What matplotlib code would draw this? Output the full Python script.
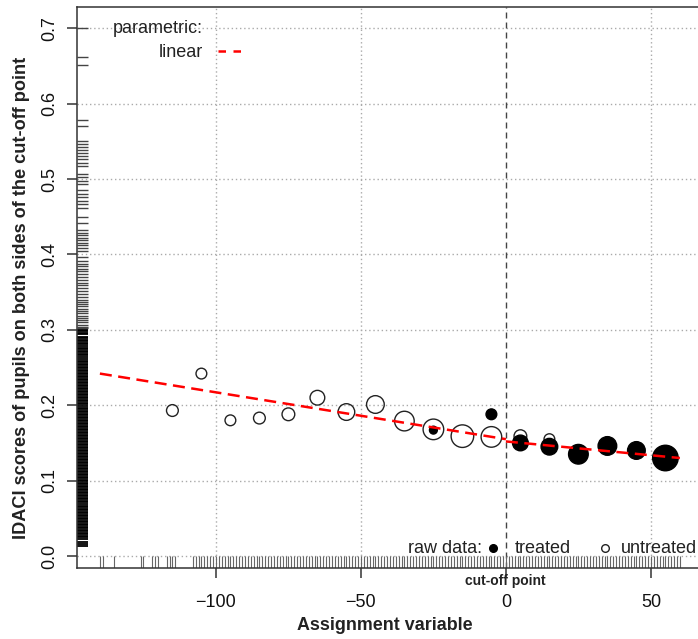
import matplotlib
matplotlib.use("Agg")
import matplotlib.pyplot as plt
import matplotlib.transforms as mtransforms

plt.rcParams["font.family"] = ["Liberation Sans", "DejaVu Sans"]

# -----------------------------
# Data
# -----------------------------
# binned means: untreated (open circles)
untreated_x = [-115, -105, -95, -85, -75, -65, -55, -45, -35, -25, -15, -5, 5, 15]
untreated_y = [0.193, 0.242, 0.180, 0.183, 0.188, 0.210, 0.191, 0.201, 0.179, 0.168, 0.159, 0.158, 0.159, 0.155]
untreated_n = [36, 30, 30, 36, 42, 56, 72, 81, 100, 110, 132, 110, 42, 30]

# binned means: treated (filled circles)
treated_x = [-25, -5, 5, 15, 25, 35, 45, 55]
treated_y = [0.167, 0.188, 0.150, 0.145, 0.135, 0.146, 0.140, 0.130]
treated_n = [16, 30, 64, 72, 100, 90, 81, 169]

# parametric (linear) fit on each side of the cut-off
fit_left_x = [-140, 0]
fit_left_y = [0.242, 0.155]
fit_right_x = [0, 60]
fit_right_y = [0.152, 0.130]

cutoff = 0

# rug of the assignment variable (bottom)
rug_x = [-140, -139, -135, -126, -125, -122, -121, -120, -117, -116, -115, -114,
         -108, -107, -106, -105, -104, -103, -102, -101, -100, -99, -98, -97, -96,
         -95, -94, -93, -92, -91, -90, -89, -88, -87, -86, -85, -84, -83, -82, -81,
         -80, -79, -78, -77, -76, -75, -74, -73, -72, -71, -70, -69, -68, -67, -66,
         -65, -64, -63, -62, -61, -60, -59, -58, -57, -56, -55, -54, -53, -52, -51,
         -50, -49, -48, -47, -46, -45, -44, -43, -42, -41, -40, -39, -38, -37, -36,
         -35, -34, -33, -32, -31, -30, -29, -28, -27, -26, -25, -24, -23, -22, -21,
         -20, -19, -18, -17, -16, -15, -14, -13, -12, -11, -10, -9, -8, -7, -6,
         -5, -4, -3, -2, -1, 0, 1, 2, 3, 4, 5, 6, 7, 8, 9, 10, 11, 12, 13, 14,
         15, 16, 17, 18, 19, 20, 21, 22, 23, 24, 25, 26, 27, 28, 29, 30, 31, 32, 33,
         34, 35, 36, 37, 38, 39, 40, 41, 42, 43, 44, 45, 46, 47, 48, 49, 50, 51, 52,
         53, 54, 55, 56, 57, 58, 59, 60]

# rug of the outcome (left), thousandths
rug_y_sparse_milli = [700, 662, 652, 579, 571, 550, 546, 542, 538, 534, 530, 526, 521, 517,
                      507, 503, 498, 494, 485, 480, 476, 471, 467, 462, 450, 442, 432, 429,
                      426, 422, 419, 415, 412, 408, 405, 396, 392, 388, 385, 381, 378, 374,
                      370, 366, 362, 359, 355, 352, 347, 344, 340, 337, 334, 331, 328, 325,
                      322, 319, 316, 313, 310, 307, 304, 302]
rug_y_dense_milli = [300, 298, 296, 294, 291, 289, 287, 285, 283, 281, 279, 276, 274, 272,
                     270, 268, 266, 264, 262, 259, 257, 255, 253, 251, 249, 247, 245, 243,
                     241, 239, 237, 235, 233, 231, 229, 227, 225, 223, 221, 219, 217, 215,
                     213, 211, 209, 207, 205, 203, 201, 199, 197, 195, 193, 191, 189, 187,
                     185, 183, 181, 179, 177, 175, 173, 171, 169, 167, 165, 163, 161, 159,
                     157, 155, 153, 151, 149, 147, 145, 143, 141, 139, 137, 135, 133, 131,
                     129, 127, 125, 123, 121, 119, 117, 115, 113, 111, 109, 107, 105, 103,
                     101, 99, 97, 95, 93, 91, 89, 87, 85, 83, 81, 79, 77, 75, 73, 71, 69,
                     67, 65, 63, 61, 59, 57, 55, 53, 51, 49, 47, 45, 43, 41, 39, 37, 35,
                     33, 31, 29, 27, 25, 22, 19, 16, 13]
rug_y_sparse = [v / 1000 for v in rug_y_sparse_milli]
rug_y_dense = [v / 1000 for v in rug_y_dense_milli]

x_ticks = [-100, -50, 0, 50]
y_ticks = [0.0, 0.1, 0.2, 0.3, 0.4, 0.5, 0.6, 0.7]

# -----------------------------
# Figure
# -----------------------------
W, H = 698, 639
fig = plt.figure(figsize=(W / 100, H / 100), dpi=100)


def px(x, y):
    return x / W, 1 - y / H


left, top, bottom = 76.7, 7.3, 567.7
xmin, xmax = -148.0, 70.0
ax = fig.add_axes([left / W, (H - bottom) / H, 2.9 * (xmax - xmin) / W, (bottom - top) / H])
ax.set_xlim(xmin, xmax)
ax.set_ylim(-0.0155, 0.7279)

for s in ["left", "top", "bottom"]:
    ax.spines[s].set_linewidth(1.1)
    ax.spines[s].set_color("#333333")
ax.spines["right"].set_visible(False)

ax.set_xticks(x_ticks)
ax.set_xticklabels(["\u2212100", "\u221250", "0", "50"])
ax.set_yticks(y_ticks)
ax.set_yticklabels([f"{v:.1f}" for v in y_ticks], rotation=90, va="center")
ax.tick_params(axis="both", length=7.5, width=1.1, color="#333333", labelsize=13,
               labelcolor="#111111")
ax.tick_params(axis="x", pad=11.5)
ax.tick_params(axis="y", pad=6)

# grid
for xv in x_ticks:
    if xv != cutoff:
        ax.axvline(xv, color="#aaaaaa", lw=1.0, dashes=(1, 2), zorder=0)
for yv in y_ticks:
    ax.axhline(yv, color="#aaaaaa", lw=1.0, dashes=(1, 2), zorder=0)

# cut-off line
ax.axvline(cutoff, color="#444444", lw=1.0, dashes=(4.3, 2.9), zorder=1)

# rugs
tx = mtransforms.blended_transform_factory(ax.transData, ax.transAxes)
ty = mtransforms.blended_transform_factory(ax.transAxes, ax.transData)
rug_len_y = 11 / (2.9 * (xmax - xmin))
ax.vlines(rug_x, 0, 12 / (bottom - top), transform=tx, color="#666666", lw=0.8, zorder=2)
ax.hlines(rug_y_sparse, 0, rug_len_y, transform=ty, color="#444444", lw=1.0, zorder=2)
ax.hlines(rug_y_dense, 0, rug_len_y, transform=ty, color="black", lw=1.3, zorder=2)

# binned points
ax.scatter(untreated_x, untreated_y, s=[2.0 * n for n in untreated_n],
           facecolors="none", edgecolors="#222222", linewidths=1.0, zorder=3)
ax.scatter(treated_x, treated_y, s=[2.0 * n for n in treated_n],
           color="black", zorder=4)

# parametric fit
ax.plot(fit_left_x, fit_left_y, color="red", lw=1.8, dashes=(4.8, 2.6), zorder=5)
ax.plot(fit_right_x, fit_right_y, color="red", lw=1.8, dashes=(4.8, 2.6), zorder=5)

# legend: parametric
fig.text(*px(203, 33.3), "parametric:", ha="right", va="baseline", fontsize=13, color="#222222")
fig.text(*px(203, 56.7), "linear", ha="right", va="baseline", fontsize=13, color="#222222")
fig.add_artist(plt.Line2D([218 / W, 246 / W], [1 - 51 / H, 1 - 51 / H], color="red",
                          lw=1.8, dashes=(3.0, 3.0)))

# legend: raw data
fig.text(*px(482, 553), "raw data:", ha="right", va="baseline", fontsize=13, color="#222222")
fig.add_artist(plt.Line2D([493 / W], [1 - 548 / H], marker="o", ms=5.5, color="black", lw=0))
fig.text(*px(515, 553), "treated", ha="left", va="baseline", fontsize=13, color="#222222")
fig.add_artist(plt.Line2D([605 / W], [1 - 548 / H], marker="o", ms=5.5, mfc="none",
                          mec="#222222", mew=1.0, lw=0))
fig.text(*px(621, 553), "untreated", ha="left", va="baseline", fontsize=13, color="#222222")

# axis titles
fig.text(*px(505.7, 585.5), "cut-off point", ha="center", va="baseline", fontsize=10,
         fontweight="bold", color="#222222")
fig.text(*px(385, 630), "Assignment variable", ha="center", va="baseline", fontsize=12.9,
         fontweight="bold", color="#222222")
fig.text(*px(22, 298), "IDACI scores of pupils on both sides of the cut-off point",
         rotation=90, ha="center", va="center", fontsize=13.1, fontweight="bold",
         color="#222222")

fig.savefig("out.png", dpi=100)
